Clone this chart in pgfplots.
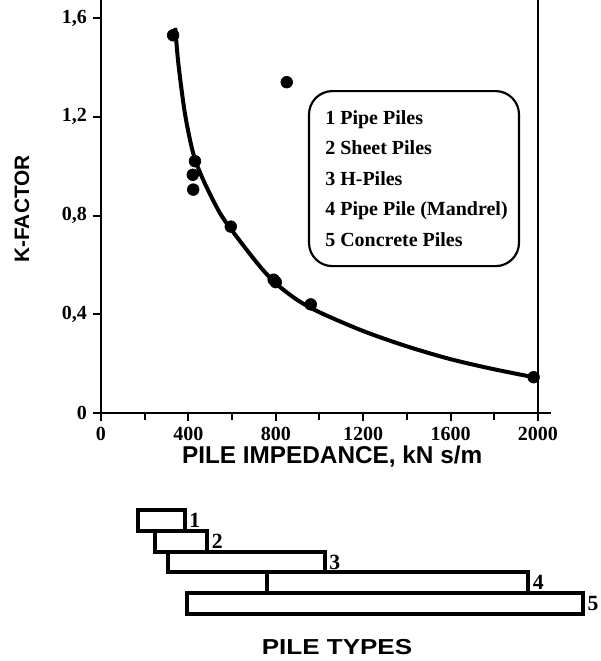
\documentclass[border=0pt]{standalone}
\usepackage{fontspec}
\setmainfont{Liberation Serif}
\setsansfont{Liberation Sans}
\usepackage{graphicx}
\usepackage{pgfplots}
\pgfplotsset{compat=1.18}

\begin{document}
\begin{tikzpicture}[x=1pt,y=1pt]
\path[use as bounding box] (-60.6pt,-148.8pt) rectangle (299.4pt,247.8pt);
\begin{axis}[
  name=main,
  at={(0pt,0pt)}, anchor=south west,
  scale only axis, width=262.2pt, height=247.8pt,
  xmin=0, xmax=2000, ymin=0, ymax=1.673,
  axis x line=bottom, axis y line=left,
  axis line style={-, line width=1.3pt},
  xtick={0,400,...,2000}, minor xtick={200,600,...,1800},
  ytick={0,0.4,0.8,1.2,1.6},
  tick align=outside, major tick length=5pt, minor tick length=4pt,
  tick style={line width=1.2pt, black},
  ticklabel style={font=\bfseries\fontsize{12}{12}\selectfont},
  /pgf/number format/assume math mode=true,
  /pgf/number format/use comma,
  /pgf/number format/1000 sep={},
  clip=false,
  xlabel={PILE IMPEDANCE, kN s/m},
  ylabel={K-FACTOR},
  xlabel style={font=\sffamily\bfseries\fontsize{14.6}{14.6}\selectfont, at={(axis description cs:0.529,-0.1065)}, anchor=center},
  ylabel style={font=\sffamily\bfseries\fontsize{12.5}{12.5}\selectfont, at={(axis description cs:-0.181,0.494)}, anchor=center},
]
\addplot[black, line width=2.4pt, smooth, tension=0.5] coordinates {
 (340,1.56) (354,1.416) (384,1.214) (422,1.052) (468,0.944) (545,0.809)
 (621,0.714) (728,0.593) (804,0.522) (900,0.457) (1000,0.408) (1200,0.332)
 (1400,0.270) (1600,0.218) (1800,0.177) (1998,0.142)};
\addplot[only marks, mark=*, mark size=3.5pt, black] coordinates {
 (330,1.53) (850,1.34) (430,1.02) (420,0.965) (422,0.905) (594,0.755)
 (790,0.54) (800,0.53) (960,0.44) (1980,0.145)};
\draw[line width=1.3pt] (axis cs:2000,0) -- (axis cs:2000,1.673);
\draw[line width=1.3pt] (axis cs:1990,0) -- (axis cs:2060,0);
\draw[line width=1.3pt, rounded corners=14pt] (axis cs:952,0.595) rectangle (axis cs:1913,1.304);
\node[anchor=north west, align=left, inner sep=0pt, font=\bfseries\fontsize{12}{18.3}\selectfont] at (axis cs:1025,1.227)
 {1 Pipe Piles\\2 Sheet Piles\\3 H-Piles\\4 Pipe Pile (Mandrel)\\5 Concrete Piles};
\end{axis}

\begin{axis}[
  at={(main.south west)}, anchor=north west, yshift=-58.2pt,
  scale only axis, width=262.2pt, height=62.4pt,
  xmin=0, xmax=2000, ymin=0.5, ymax=5.5, y dir=reverse,
  hide axis, clip=false,
]
\addplot[fill=white, draw=black, line width=2.4pt, line join=miter] coordinates {(171,0.5) (384,0.5) (384,1.5) (171,1.5) (171,0.5) (384,0.5)};
\addplot[fill=white, draw=black, line width=2.4pt, line join=miter] coordinates {(247,1.5) (487,1.5) (487,2.5) (247,2.5) (247,1.5) (487,1.5)};
\addplot[fill=white, draw=black, line width=2.4pt, line join=miter] coordinates {(308,2.5) (1025,2.5) (1025,3.5) (308,3.5) (308,2.5) (1025,2.5)};
\addplot[fill=white, draw=black, line width=2.4pt, line join=miter] coordinates {(758,3.5) (1956,3.5) (1956,4.5) (758,4.5) (758,3.5) (1956,3.5)};
\addplot[fill=white, draw=black, line width=2.4pt, line join=miter] coordinates {(392,4.5) (2207,4.5) (2207,5.5) (392,5.5) (392,4.5) (2207,4.5)};
\begin{scope}[every node/.style={anchor=west, font=\bfseries\fontsize{13}{13}\selectfont, inner sep=2.5pt}]
\node at (axis cs:384,1) {1};
\node at (axis cs:487,2) {2};
\node at (axis cs:1025,3) {3};
\node at (axis cs:1956,4) {4};
\node at (axis cs:2207,5) {5};
\end{scope}
\end{axis}
\node[font=\sffamily\bfseries\fontsize{13}{13}\selectfont] at (141.6pt,-140.4pt) {\scalebox{1.2}[1]{PILE TYPES}};
\end{tikzpicture}
\end{document}
